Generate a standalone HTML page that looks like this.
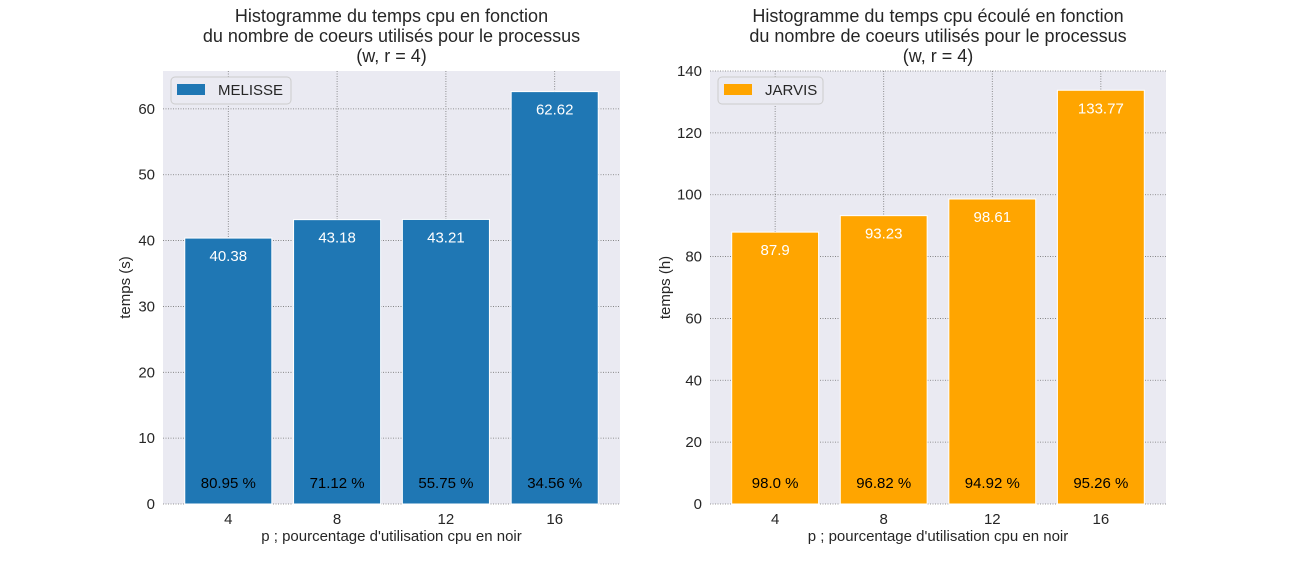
<!DOCTYPE html>
<html><head><meta charset="utf-8"><style>
html,body{margin:0;padding:0;background:#fff;}
svg{display:block;font-family:"Liberation Sans",Arial,sans-serif;}
</style></head><body>
<svg id="chart" width="1296" height="576" viewBox="0 0 1296 576"></svg>
<script>
const categories = ["4","8","12","16"];
const melisseValues = [40.38, 43.18, 43.21, 62.62];
const melissePercents = ["80.95 %","71.12 %","55.75 %","34.56 %"];
const jarvisValues = [87.9, 93.23, 98.61, 133.77];
const jarvisPercents = ["98.0 %","96.82 %","94.92 %","95.26 %"];
const leftTicks = [0,10,20,30,40,50,60];
const rightTicks = [0,20,40,60,80,100,120,140];

const NS = "http://www.w3.org/2000/svg";
const svg = document.getElementById('chart');
function mk(tag, attrs, parent, text){
  const e = document.createElementNS(NS, tag);
  for (const k in attrs) e.setAttribute(k, attrs[k]);
  if (text !== undefined) e.textContent = text;
  (parent||svg).appendChild(e);
  return e;
}

function panel(cfg){
  const g = mk('g', {});
  
  
  const L = cfg.x0, R = cfg.x1, T = 71, B = 504;
  const xs = i => L + (i + 0.6) / 4.2 * (R - L);
  const ys = v => B - v / cfg.ymax * (B - T);
  const bg = mk('rect', {x:L, y:T, width:R-L, height:B-T, fill:'#eaeaf2'}, g);
  
  
  cfg.ticks.forEach(t => {
    const ln = mk('line', {x1:L, x2:R, y1:ys(t), y2:ys(t), stroke:'#777', 'stroke-width':0.8, 'stroke-dasharray':'1,1.5'}, g);
    
    
    const tl = mk('text', {x:L-8, y:ys(t)+5, 'text-anchor':'end', 'font-size':15, fill:'#262626'}, g, String(t));
    
    
  });
  categories.forEach((c, i) => {
    const ln = mk('line', {x1:xs(i), x2:xs(i), y1:T, y2:B, stroke:'#777', 'stroke-width':0.8, 'stroke-dasharray':'1,1.5'}, g);
    
    
  });
  const bw = 0.8 / 4.2 * (R - L);
  cfg.values.forEach((v, i) => {
    const b = mk('rect', {x:xs(i)-bw/2, y:ys(v), width:bw, height:B-ys(v), fill:cfg.color, stroke:'#fff', 'stroke-width':1}, g);
    
    
    const vl = mk('text', {x:xs(i), y:ys(v)+23, 'text-anchor':'middle', 'font-size':15, fill:'#fff'}, g, String(v));
    
    
    const pl = mk('text', {x:xs(i), y:488, 'text-anchor':'middle', 'font-size':15, fill:'#000'}, g, cfg.percents[i]);
    
    
    const xl = mk('text', {x:xs(i), y:524, 'text-anchor':'middle', 'font-size':15, fill:'#262626'}, g, categories[i]);
    
    
  });
  const xt = mk('text', {x:(L+R)/2, y:541, 'text-anchor':'middle', 'font-size':15, fill:'#262626'}, g, "p ; pourcentage d'utilisation cpu en noir");
  
  
  const yt = mk('text', {x:0, y:0, transform:`translate(${cfg.ylx},${(T+B)/2}) rotate(-90)`, 'text-anchor':'middle', 'font-size':15, fill:'#262626'}, g, cfg.ylabel);
  
  
  cfg.title.forEach((line, k) => {
    const tt = mk('text', {x:(L+R)/2, y:22 + k*20, 'text-anchor':'middle', 'font-size':18, fill:'#262626'}, g, line);
    
    
  });
  const lg = mk('g', {}, g);
  
  
  mk('rect', {x:L+8, y:77, width:cfg.legW, height:27, rx:4, fill:'#eaeaf2', stroke:'#ccc', 'stroke-width':1}, lg);
  mk('rect', {x:L+14, y:84, width:28, height:11, fill:cfg.color}, lg);
  const lt = mk('text', {x:L+55, y:95, 'font-size':15, fill:'#262626'}, lg, cfg.legend);
  
  
}

panel({name:'melisse-panel', x0:163, x1:620, ymax:65.75, ticks:leftTicks, values:melisseValues, percents:melissePercents,
  color:'#1f77b4', legend:'MELISSE', legW:120, ylabel:'temps (s)', ylx:130,
  title:['Histogramme du temps cpu en fonction','du nombre de coeurs utilisés pour le processus','(w, r = 4)']});
panel({name:'jarvis-panel', x0:710, x1:1166, ymax:140, ticks:rightTicks, values:jarvisValues, percents:jarvisPercents,
  color:'#ffa500', legend:'JARVIS', legW:105, ylabel:'temps (h)', ylx:670,
  title:['Histogramme du temps cpu écoulé en fonction','du nombre de coeurs utilisés pour le processus','(w, r = 4)']});
</script>
</body></html>
